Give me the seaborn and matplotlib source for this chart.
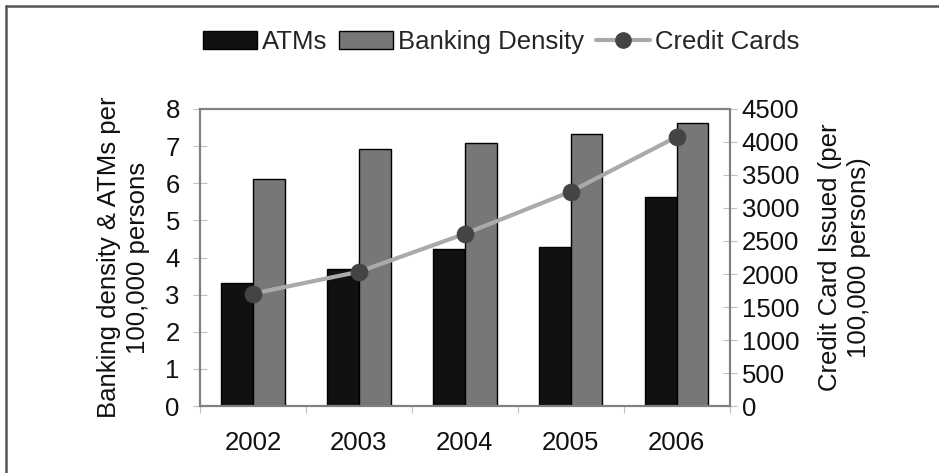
import numpy as np
import pandas as pd
import matplotlib
matplotlib.use("Agg")
import matplotlib.pyplot as plt
from matplotlib.lines import Line2D
from matplotlib.patches import Patch
import seaborn as sns

years = ["2002", "2003", "2004", "2005", "2006"]
atms = [3.31, 3.69, 4.23, 4.28, 5.63]
banking_density = [6.11, 6.92, 7.09, 7.32, 7.63]
credit_cards = [1703, 2034, 2608, 3249, 4078]

sns.set_theme(style="white")
plt.rcParams["font.family"] = ["Liberation Sans", "DejaVu Sans"]
FS = 18.5

df = pd.DataFrame({
    "year": years * 2,
    "value": atms + banking_density,
    "series": ["ATMs"] * len(years) + ["Banking Density"] * len(years),
})

fig = plt.figure(figsize=(9.39, 4.73), dpi=100)
ax = fig.add_axes([0.213, 0.1416, 0.564, 0.628])

bar_colors = ["#111111", "#777777"]
sns.barplot(data=df, x="year", y="value", hue="series", order=years,
            palette=bar_colors, width=0.6, edgecolor="black", linewidth=1.0,
            saturation=1, ax=ax, legend=False)

ax2 = ax.twinx()
sns.lineplot(x=np.arange(len(years)), y=credit_cards, ax=ax2, color="#aaaaaa",
             linewidth=3, marker="o", markersize=12, markerfacecolor="#444444",
             markeredgecolor="#444444", zorder=5)

ax.set_xlim(-0.5, len(years) - 0.5)
ax.set_ylim(0, 8)
ax.set_yticks(range(0, 9))
ax2.set_ylim(0, 4500)
ax2.set_yticks(range(0, 4501, 500))

ax.set_xlabel("")
ax.set_ylabel("Banking density & ATMs per\n100,000 persons", fontsize=FS,
              labelpad=11, linespacing=1.25, color="#111111")
ax2.set_ylabel("Credit Card Issued (per\n100,000 persons)", fontsize=FS,
               labelpad=14, linespacing=1.25, color="#111111")

for a in (ax, ax2):
    for s in a.spines.values():
        s.set_color("#808080")
        s.set_linewidth(1.5)

ax.tick_params(axis="y", direction="inout", length=10, width=0.8,
               color="#c0c0c0", pad=9.5, labelsize=FS, labelcolor="#111111",
               left=True)
ax2.tick_params(axis="y", direction="inout", length=10, width=0.8,
                color="#c0c0c0", pad=3.6, labelsize=FS, labelcolor="#111111",
                right=True)
ax.set_xticks(np.arange(len(years)))
ax.set_xticklabels(years)
ax.set_xticks(np.arange(-0.5, len(years)), minor=True)
ax.tick_params(axis="x", which="major", length=0, pad=18, labelsize=FS,
               labelcolor="#111111")
ax.tick_params(axis="x", which="minor", direction="out", length=5,
               width=0.8, color="#c0c0c0", bottom=True)

handles = [
    Patch(facecolor=bar_colors[0], edgecolor="black", linewidth=1.0),
    Patch(facecolor=bar_colors[1], edgecolor="black", linewidth=1.0),
    Line2D([], [], color="#aaaaaa", linewidth=3, marker="o", markersize=11,
           markerfacecolor="#444444", markeredgecolor="#444444"),
]
fig.legend(handles, ["ATMs", "Banking Density", "Credit Cards"],
           loc="center", bbox_to_anchor=(0.534, 0.911), ncol=3, frameon=False,
           fontsize=FS, handlelength=2.1, handleheight=0.7,
           handletextpad=0.2, columnspacing=0.45, borderaxespad=0)

# outer frame: top and left edges
fig.add_artist(Line2D([0.0068, 1.0], [0.9873, 0.9873], color="#555555",
                      linewidth=1.8, transform=fig.transFigure))
fig.add_artist(Line2D([0.0068, 0.0068], [0.0, 0.9873], color="#555555",
                      linewidth=1.8, transform=fig.transFigure))

fig.savefig("out.png", dpi=100, facecolor="white")
